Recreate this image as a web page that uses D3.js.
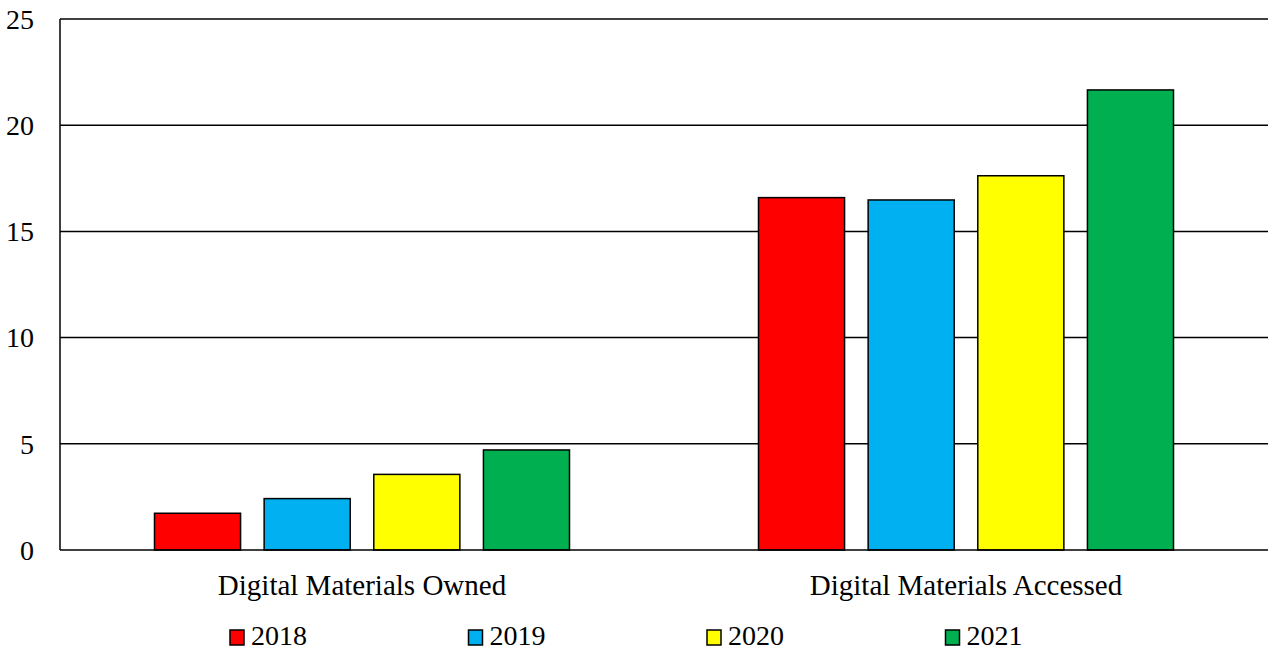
<!DOCTYPE html>
<html>
<head>
<meta charset="utf-8">
<script src="https://cdn.jsdelivr.net/npm/d3@7"></script>
<style>
  body { margin: 0; background: #fff; }
</style>
</head>
<body>
<svg width="1268" height="652"></svg>
<script>
// chart data
const categories = ['Digital Materials Owned', 'Digital Materials Accessed'];
const years = ['2018', '2019', '2020', '2021'];
const colors = ['#ff0000', '#00b0f0', '#ffff00', '#00b050'];
const values2018 = [1.73, 16.59];
const values2019 = [2.42, 16.48];
const values2020 = [3.56, 17.62];
const values2021 = [4.71, 21.66];
const yTicks = [0, 5, 10, 15, 20, 25];

const seriesValues = [values2018, values2019, values2020, values2021];
const serif = "'Liberation Serif', 'Times New Roman', Times, 'DejaVu Serif', serif";

const svg = d3.select('svg')
  .attr('font-family', serif),
      plotL = 60, plotR = 1268, plotT = 19, plotB = 550;

const x0 = d3.scaleBand().domain(categories).range([plotL, plotR]).paddingInner(0).paddingOuter(0);
const x1 = d3.scaleBand().domain(years).range([94.5, 604 - 94.5]).paddingInner(0.215).paddingOuter(0);
const y = d3.scaleLinear().domain([0, 25]).range([plotB, plotT]);

// gridlines
svg.append('g')
  .selectAll('line')
  .data(yTicks.filter(d => d > 0))
  .enter()
  .append('line')
  .attr('x1', plotL).attr('x2', plotR)
  .attr('y1', d => y(d)).attr('y2', d => y(d))
  .attr('stroke', '#000').attr('stroke-width', 1.5);

// y tick labels
svg.append('g')
  .selectAll('text')
  .data(yTicks)
  .enter()
  .append('text')
  .attr('x', 34)
  .attr('y', d => y(d))
  .attr('dy', '0.35em')
  .attr('text-anchor', 'end')
  .attr('font-family', serif)
  .style('font-size', '28px')
  .text(d => d);

// bars
const group = svg.append('g')
  .selectAll('g')
  .data(categories)
  .enter()
  .append('g')
  .attr('transform', d => `translate(${x0(d)},0)`);

group.selectAll('rect')
  .data((c, ci) => years.map((yr, i) => ({ yr, i, v: seriesValues[i][ci] })))
  .enter()
  .append('rect')
  .attr('x', d => x1(d.yr))
  .attr('width', x1.bandwidth())
  .attr('y', d => y(d.v))
  .attr('height', d => y(0) - y(d.v))
  .attr('fill', d => colors[d.i])
  .attr('stroke', '#000')
  .attr('stroke-width', 1.5);

// axes lines
svg.append('line')
  .attr('x1', plotL).attr('x2', plotR)
  .attr('y1', y(0)).attr('y2', y(0))
  .attr('stroke', '#000').attr('stroke-width', 1.5);
svg.append('line')
  .attr('x1', plotL).attr('x2', plotL)
  .attr('y1', plotT).attr('y2', y(0))
  .attr('stroke', '#000').attr('stroke-width', 1.5);

// category labels
svg.append('g')
  .selectAll('text')
  .data(categories)
  .enter()
  .append('text')
  .attr('x', d => x0(d) + x0.bandwidth() / 2)
  .attr('y', 595)
  .attr('text-anchor', 'middle')
  .attr('font-family', serif)
  .style('font-size', '29px')
  .text(d => d);

// legend
const legend = svg.append('g')
  .selectAll('g')
  .data(years)
  .enter()
  .append('g')
  .attr('transform', (d, i) => `translate(${230 + i * 238.5},630)`);

legend.append('rect')
  .attr('width', 14).attr('height', 15)
  .attr('fill', (d, i) => colors[i])
  .attr('stroke', '#000').attr('stroke-width', 1.5);

legend.append('text')
  .attr('x', 21)
  .attr('y', 15)
  .attr('font-family', serif)
  .style('font-size', '28px')
  .text(d => d);
</script>
</body>
</html>
